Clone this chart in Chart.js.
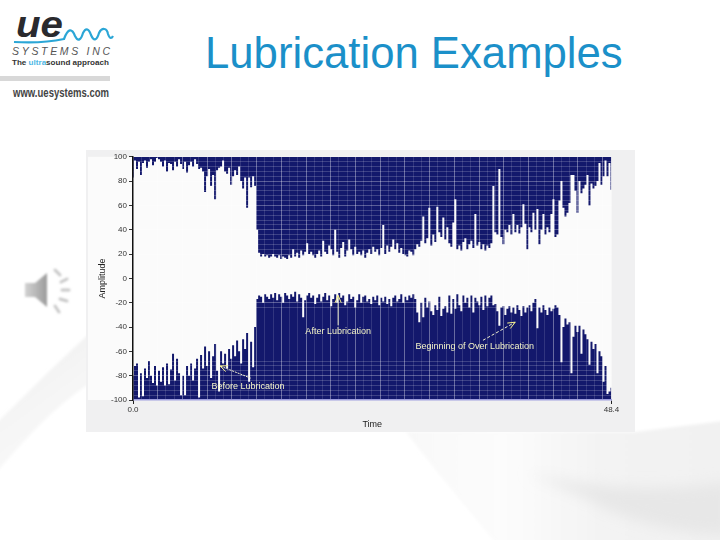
<!DOCTYPE html>
<html>
<head>
<meta charset="utf-8">
<title>Lubrication Examples</title>
<script src="https://cdn.jsdelivr.net/npm/chart.js@4"></script>
<style>
html, body { margin: 0; padding: 0; background: #fff; overflow: hidden; }
#slide { position: relative; width: 720px; height: 540px; overflow: hidden; font-family: "Liberation Sans", sans-serif; }
#deco { position: absolute; left: 0; top: 0; }
#title { position: absolute; left: 205px; top: 27px; font-size: 43.7px; line-height: 52px; color: #1b90c9; white-space: nowrap; }
#chartBox { position: absolute; left: 86px; top: 150px; width: 549px; height: 282px; }
</style>
</head>
<body>
<div id="slide">
  <svg id="deco" width="720" height="540" xmlns="http://www.w3.org/2000/svg">
    <defs>
      <filter id="soft"><feGaussianBlur stdDeviation="7"/></filter>
      <filter id="edge"><feGaussianBlur stdDeviation="1.5"/></filter>
      <filter id="softer"><feGaussianBlur stdDeviation="0.8"/></filter>
      <linearGradient id="cone" x1="0" x2="1" y1="0" y2="0">
        <stop offset="0" stop-color="#d2d2d2"/><stop offset="1" stop-color="#9c9c9c"/>
      </linearGradient>
      <linearGradient id="fade" x1="0" x2="1" y1="0" y2="0">
        <stop offset="0" stop-color="#f8f8f8"/><stop offset="0.3" stop-color="#fcfcfc"/><stop offset="0.6" stop-color="#f3f3f3"/><stop offset="1" stop-color="#f1f1f1"/>
      </linearGradient>
      <linearGradient id="band" x1="0" x2="0.5" y1="0" y2="1">
        <stop offset="0" stop-color="#ededed"/><stop offset="1" stop-color="#fbfbfb"/>
      </linearGradient>
    </defs>
    <!-- background swooshes -->
    <path d="M-10 430 C 20 400 55 365 90 333 L 90 383 C 50 410 20 445 -10 480 Z" fill="url(#band)" filter="url(#edge)"/>
    <path d="M406 432 C 435 470 465 505 497 545 L 730 545 L 730 420 L 635 432 Z" fill="url(#fade)" filter="url(#edge)"/>
    <path d="M527 472 C 590 490 660 492 730 482 L 730 535 C 680 535 620 520 590 500 Z" fill="#e7e7e7" filter="url(#soft)"/>
    <!-- logo -->
    <text x="16" y="37" font-family="Liberation Sans" font-weight="bold" font-style="italic" font-size="36" fill="#2a2a2e" textLength="47" lengthAdjust="spacingAndGlyphs">ue</text>
    <path d="M14 42 C 30 43 50 42 64 39 C 68 28 72 28 75 36 C 78 42 81 40 83 33 C 86 27 89 29 91 35 C 94 42 97 40 99 33 C 102 27 107 28 108 34 C 110 40 112 38 113 36" fill="none" stroke="#2ba6d6" stroke-width="2.2"/>
    <text x="12" y="54.5" font-family="Liberation Sans" font-style="italic" font-size="10.5" fill="#555" textLength="98" lengthAdjust="spacing">SYSTEMS INC</text>
    <text x="12" y="65" font-family="Liberation Sans" font-weight="bold" font-size="7.5" fill="#333" textLength="97" lengthAdjust="spacingAndGlyphs">The <tspan fill="#4fb8e6">ultra</tspan>sound approach</text>
    <rect x="0" y="76" width="110" height="5" fill="#d8d8d8"/>
    <text x="13" y="97" font-family="Liberation Sans" font-weight="bold" font-size="12.5" fill="#444" textLength="96" lengthAdjust="spacingAndGlyphs">www.uesystems.com</text>
    <!-- speaker -->
    <g filter="url(#softer)">
      <path d="M25 283 L35 283 L47 273 L47 307 L35 297 L25 297 Z" fill="url(#cone)"/>
      <g stroke="#c8c8c8" stroke-width="3" stroke-linecap="round">
        <line x1="55" y1="270" x2="60" y2="275"/>
        <line x1="61" y1="282" x2="67" y2="279"/>
        <line x1="62" y1="290" x2="69" y2="290"/>
        <line x1="60" y1="299" x2="67" y2="301"/>
        <line x1="55" y1="306" x2="59" y2="312"/>
      </g>
    </g>
  </svg>
  <div id="title">Lubrication Examples</div>
  <div id="chartBox"><canvas id="chartAmp" width="549" height="282"></canvas></div>
</div>
<script>
// upper envelope of the signal, one value per ~0.2 s
var upperEnv = [
    83,97,90,96,85,95,97,91,96,98,
    93,96,99,98,96,92,97,88,95,94,
    89,96,92,98,94,90,96,87,93,96,
    92,98,94,90,91,88,71,84,90,76,
    85,65,89,91,92,97,88,86,91,77,
    84,89,85,92,80,74,83,58,83,75,
    84,76,40,21,18,20,18,19,17,18,
    20,18,17,19,16,18,17,16,19,17,
    24,18,21,17,23,19,22,29,20,22,
    19,17,20,23,18,31,22,20,27,24,
    19,40,22,17,25,30,18,23,32,24,
    19,26,20,22,19,23,17,21,24,20,
    26,22,24,19,25,44,20,27,22,26,
    32,24,29,21,25,20,19,18,23,22,
    19,24,28,26,31,51,29,33,58,27,
    36,30,59,38,34,50,32,42,29,26,
    46,65,24,27,23,30,33,24,28,31,
    25,53,27,30,24,28,23,27,25,29,
    76,38,36,90,34,28,40,38,44,36,
    53,38,44,37,42,61,45,24,42,38,
    54,40,57,28,40,53,36,42,38,53,
    65,34,36,64,80,58,51,54,62,85,
    85,72,54,80,70,74,77,85,60,78,
    74,76,80,95,77,84,97,84,95,73
];
// lower envelope
var lowerEnv = [
    -80,-72,-70,-98,-78,-97,-74,-82,-68,-80,
    -86,-72,-88,-76,-85,-73,-88,-70,-87,-75,
    -62,-84,-66,-78,-96,-80,-96,-72,-80,-70,
    -84,-74,-66,-98,-63,-74,-56,-72,-60,-82,
    -64,-54,-76,-93,-60,-70,-62,-74,-58,-66,
    -55,-64,-51,-60,-70,-50,-58,-45,-85,-52,
    -73,-40,-17,-14,-15,-20,-13,-15,-17,-13,
    -16,-12,-18,-13,-15,-20,-12,-14,-17,-13,
    -15,-11,-19,-13,-16,-32,-18,-14,-12,-16,
    -14,-21,-16,-13,-19,-15,-12,-18,-14,-23,
    -17,-13,-20,-12,-16,-14,-22,-19,-13,-17,
    -15,-24,-18,-13,-20,-15,-14,-19,-17,-21,
    -15,-18,-14,-22,-16,-19,-15,-21,-17,-23,
    -16,-14,-19,-17,-13,-20,-15,-18,-14,-16,
    -13,-17,-28,-36,-20,-32,-16,-24,-19,-27,
    -30,-22,-26,-15,-31,-25,-23,-28,-14,-29,
    -17,-25,-13,-22,-27,-14,-20,-16,-24,-14,
    -28,-16,-19,-22,-15,-26,-14,-23,-16,-14,
    -22,-21,-27,-39,-24,-23,-30,-25,-23,-28,
    -24,-29,-22,-26,-31,-23,-28,-24,-22,-27,
    -20,-17,-41,-24,-28,-22,-26,-30,-24,-27,
    -25,-22,-24,-30,-69,-40,-33,-38,-36,-78,
    -48,-39,-44,-39,-62,-42,-46,-50,-71,-52,
    -58,-54,-78,-60,-64,-85,-72,-95,-93,-90
];
var maxTime = 48.4;
var yTickLabels = [100, 80, 60, 40, 20, 0, -20, -40, -60, -80, -100];
var xTickLabels = { 0: '0.0', 48.4: '48.4' };
// light horizontal rules of the original plot
var yRules = [100,96,92,88,84,80,76,72,68,64,60,56,52,48,44,40,36,32,28,24,20,-20,-24,-68,-72,-76,-80,-84,-88,-92,-96,-100];
var notes = [
    { text: 'Before Lubrication', t: 11.64, v: -88.6 },
    { text: 'After Lubrication', t: 20.75, v: -43.5 },
    { text: 'Beginning of Over Lubrication', t: 34.56, v: -55.8 }
];
var arrows = [
    { from: [11.9, -82], to: [8.8, -72], dash: [2, 1] },
    { from: [20.75, -38.6], to: [20.75, -14], dash: [] },
    { from: [35.4, -50.9], to: [38.66, -36], dash: [3, 2] }
];

function toPoints(values) {
    return values.map(function(v, i) {
        return { x: i * maxTime / (values.length - 1), y: v };
    });
}

function xGridTicks(axis) {
    var list = [];
    for (var i = 0; i * 0.8333 < maxTime - 0.3; i++) {
        list.push({ value: i * 0.8333 });
    }
    list.push({ value: maxTime });
    axis.ticks = list;
}

var panelPlugin = {
    id: 'panel',
    beforeDraw: function(chart) {
        var c = chart.ctx, a = chart.chartArea;
        c.save();
        c.fillStyle = '#f0f0f1';
        c.fillRect(0, 0, chart.width, chart.height);
        c.fillStyle = '#fbfbfb';
        c.fillRect(2, a.top, a.right - 2, a.bottom - a.top);
        c.restore();
    },
    afterDraw: function(chart) {
        var c = chart.ctx, xs = chart.scales.x, ys = chart.scales.y;
        c.save();
        arrows.forEach(function(n) {
            var x0 = xs.getPixelForValue(n.from[0]), y0 = ys.getPixelForValue(n.from[1]);
            var x1 = xs.getPixelForValue(n.to[0]), y1 = ys.getPixelForValue(n.to[1]);
            var ang = Math.atan2(y1 - y0, x1 - x0);
            c.strokeStyle = '#f4f4d0';
            c.lineWidth = 1;
            c.setLineDash(n.dash);
            c.beginPath();
            c.moveTo(x0, y0);
            c.lineTo(x1, y1);
            c.stroke();
            c.setLineDash([]);
            c.strokeStyle = '#f6f08a';
            c.beginPath();
            c.moveTo(x1 - 8 * Math.cos(ang - 0.4), y1 - 8 * Math.sin(ang - 0.4));
            c.lineTo(x1, y1);
            c.lineTo(x1 - 8 * Math.cos(ang + 0.4), y1 - 8 * Math.sin(ang + 0.4));
            c.stroke();
        });
        c.font = '9px "Liberation Sans"';
        c.textAlign = 'center';
        c.textBaseline = 'middle';
        c.fillStyle = '#f4f4c8';
        notes.forEach(function(n) {
            c.fillText(n.text, xs.getPixelForValue(n.t), ys.getPixelForValue(n.v));
        });
        c.restore();
    }
};

var navy = '#13186c';
new Chart(document.getElementById('chartAmp'), {
    type: 'line',
    data: {
        datasets: [
            { label: 'Upper', data: toPoints(upperEnv), stepped: 'middle', borderWidth: 0, pointRadius: 0, backgroundColor: navy, fill: { value: 100 } },
            { label: 'Lower', data: toPoints(lowerEnv), stepped: 'middle', borderWidth: 0, pointRadius: 0, backgroundColor: navy, fill: { value: -100 } }
        ]
    },
    plugins: [panelPlugin],
    options: {
        responsive: false,
        animation: false,
        layout: { padding: { top: 6, right: 23.5, bottom: 0, left: 0 } },
        plugins: { legend: { display: false }, tooltip: { enabled: false } },
        scales: {
            x: {
                type: 'linear',
                min: 0,
                max: maxTime,
                afterBuildTicks: xGridTicks,
                afterFit: function(axis) { axis.height = 32; },
                title: { display: true, text: 'Time', color: '#222', font: { size: 9, family: 'Liberation Sans' }, padding: { top: 0, bottom: 2 } },
                border: { color: '#9c9cdc', width: 1.5, z: 2 },
                grid: {
                    z: 1,
                    tickLength: 4,
                    color: function(ctx) { return ctx.index % 3 === 0 ? 'rgba(255,255,255,0.36)' : 'rgba(255,255,255,0.13)'; },
                    tickColor: function(ctx) { return xTickLabels[ctx.tick.value] ? '#222' : 'rgba(0,0,0,0)'; }
                },
                ticks: {
                    autoSkip: false,
                    maxRotation: 0,
                    padding: 1,
                    color: '#333',
                    font: { size: 8, family: 'Liberation Sans' },
                    callback: function(value) { return xTickLabels[value] || ''; }
                }
            },
            y: {
                min: -100,
                max: 100,
                afterBuildTicks: function(axis) {
                    var vals = yRules.concat(yTickLabels.filter(function(v) { return yRules.indexOf(v) < 0; }));
                    axis.ticks = vals.sort(function(a, b) { return a - b; }).map(function(v) { return { value: v }; });
                },
                afterFit: function(axis) { axis.width = 47; },
                title: { display: true, text: 'Amplitude', color: '#222', font: { size: 9, family: 'Liberation Sans' }, padding: { top: 11, bottom: 0 } },
                border: { color: '#111', width: 1.5, z: 2 },
                grid: {
                    z: 1,
                    tickLength: 4,
                    color: function(ctx) {
                        if (yRules.indexOf(ctx.tick.value) < 0) return 'rgba(0,0,0,0)';
                        return ctx.tick.value % 20 === 0 ? 'rgba(255,255,255,0.3)' : 'rgba(255,255,255,0.18)';
                    },
                    tickColor: function(ctx) { return yTickLabels.indexOf(ctx.tick.value) >= 0 ? '#333' : 'rgba(0,0,0,0)'; }
                },
                ticks: {
                    autoSkip: false,
                    padding: 2,
                    color: '#333',
                    font: { size: 8, family: 'Liberation Sans' },
                    callback: function(value) { return yTickLabels.indexOf(value) >= 0 ? String(value) : ''; }
                }
            }
        }
    }
});
</script>
</body>
</html>
